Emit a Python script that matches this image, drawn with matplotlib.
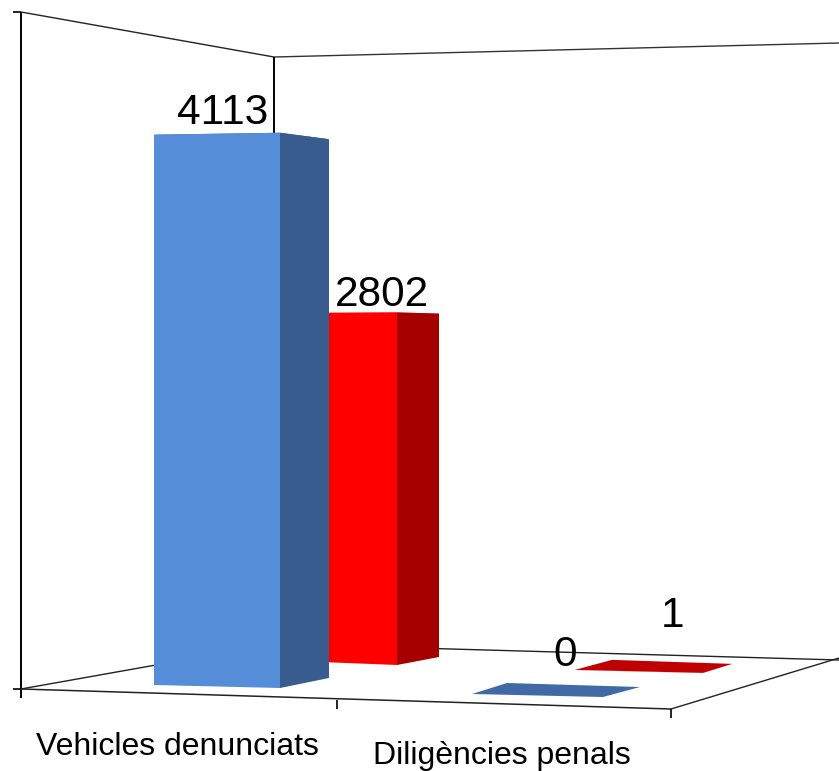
import matplotlib
matplotlib.use("Agg")
import matplotlib.pyplot as plt
from matplotlib.patches import Polygon

categories = ["Vehicles denunciats", "Diligències penals"]
series_a_values = [4113, 0]
series_b_values = [2802, 1]
value_axis_max = 5000

plt.rcParams["font.family"] = ["Liberation Sans", "DejaVu Sans"]

# Camera model of the 3D chart: a floor point at screen height y has a full
# value-axis height proportional to its distance below the horizon.
HORIZON_Y = 350.5
SCALE = 2.0


def top_y(floor_y, value):
    return floor_y - value / value_axis_max * SCALE * (floor_y - HORIZON_Y)


# Floor footprints on screen: front-left, front-right, back-right, back-left
foot_a = [
    [(154, 685), (280, 688), (329, 678), (205, 675)],
    [(472, 694), (603, 697), (640, 687), (507, 683)],
]
foot_b = [
    [(270, 660), (397, 665), (439, 657), (310, 653)],
    [(575, 670), (703, 673), (732, 664), (612, 660)],
]
style_a = dict(front="#558DD9", side="#385C8D", top="#4169A5")
style_b = dict(front="#FF0000", side="#A50000", top="#C00000")

fig = plt.figure(figsize=(8.39, 7.71), dpi=100, facecolor="white")
ax = fig.add_axes([0, 0, 1, 1])
ax.set_xlim(0, 839)
ax.set_ylim(771, 0)
ax.axis("off")


def line(xs, ys, lw=1.0, color="black", z=1):
    ax.plot(xs, ys, color=color, lw=lw, solid_capstyle="butt", zorder=z)


# Walls and floor outline
line([21, 21], [12, 698], lw=1.4)
line([13, 21], [12, 12], lw=1.2)
line([13, 21], [689, 689], lw=1.2)
line([21, 274], [12, 57], lw=1.0, color="#222222")
line([274, 839], [57, 43], lw=1.0, color="#333333")
line([274, 274], [57, 644], lw=1.4)
line([21, 274], [689, 644], lw=1.0, color="#222222")
line([274, 839], [644, 660], lw=1.0, color="#222222")
line([21, 671], [689, 709], lw=1.1, color="#222222")
line([671, 839], [709, 658], lw=1.0, color="#222222")
line([337, 337], [700, 709], lw=1.2)
line([671, 671], [709, 718], lw=1.2)


def bar(foot, value, st, z):
    fl, fr, br, bl = foot
    t = [(x, top_y(y, value)) for x, y in foot]
    ax.add_patch(Polygon(t, closed=True, fc=st["top"], ec="none", zorder=z))
    ax.add_patch(Polygon([fr, br, t[2], t[1]], closed=True, fc=st["side"], ec="none", zorder=z + 0.1))
    ax.add_patch(Polygon([fl, fr, t[1], t[0]], closed=True, fc=st["front"], ec="none", zorder=z + 0.2))


for i in range(len(categories)):
    bar(foot_b[i], series_b_values[i], style_b, 2)
    bar(foot_a[i], series_a_values[i], style_a, 3)

# Value labels
label_pos_a = [(223, 124), (565, 666)]
label_pos_b = [(382, 306), (673, 627)]
for vals, pos in ((series_a_values, label_pos_a), (series_b_values, label_pos_b)):
    for v, (x, y) in zip(vals, pos):
        ax.text(x, y, str(v), fontsize=30.5, ha="center", va="baseline", color="black", zorder=6)

# Category labels
cat_pos = [(177, 755), (502, 764)]
for c, (x, y) in zip(categories, cat_pos):
    ax.text(x, y, c, fontsize=23, ha="center", va="baseline", color="black", zorder=6)

fig.savefig("out.png", dpi=100, facecolor="white")
